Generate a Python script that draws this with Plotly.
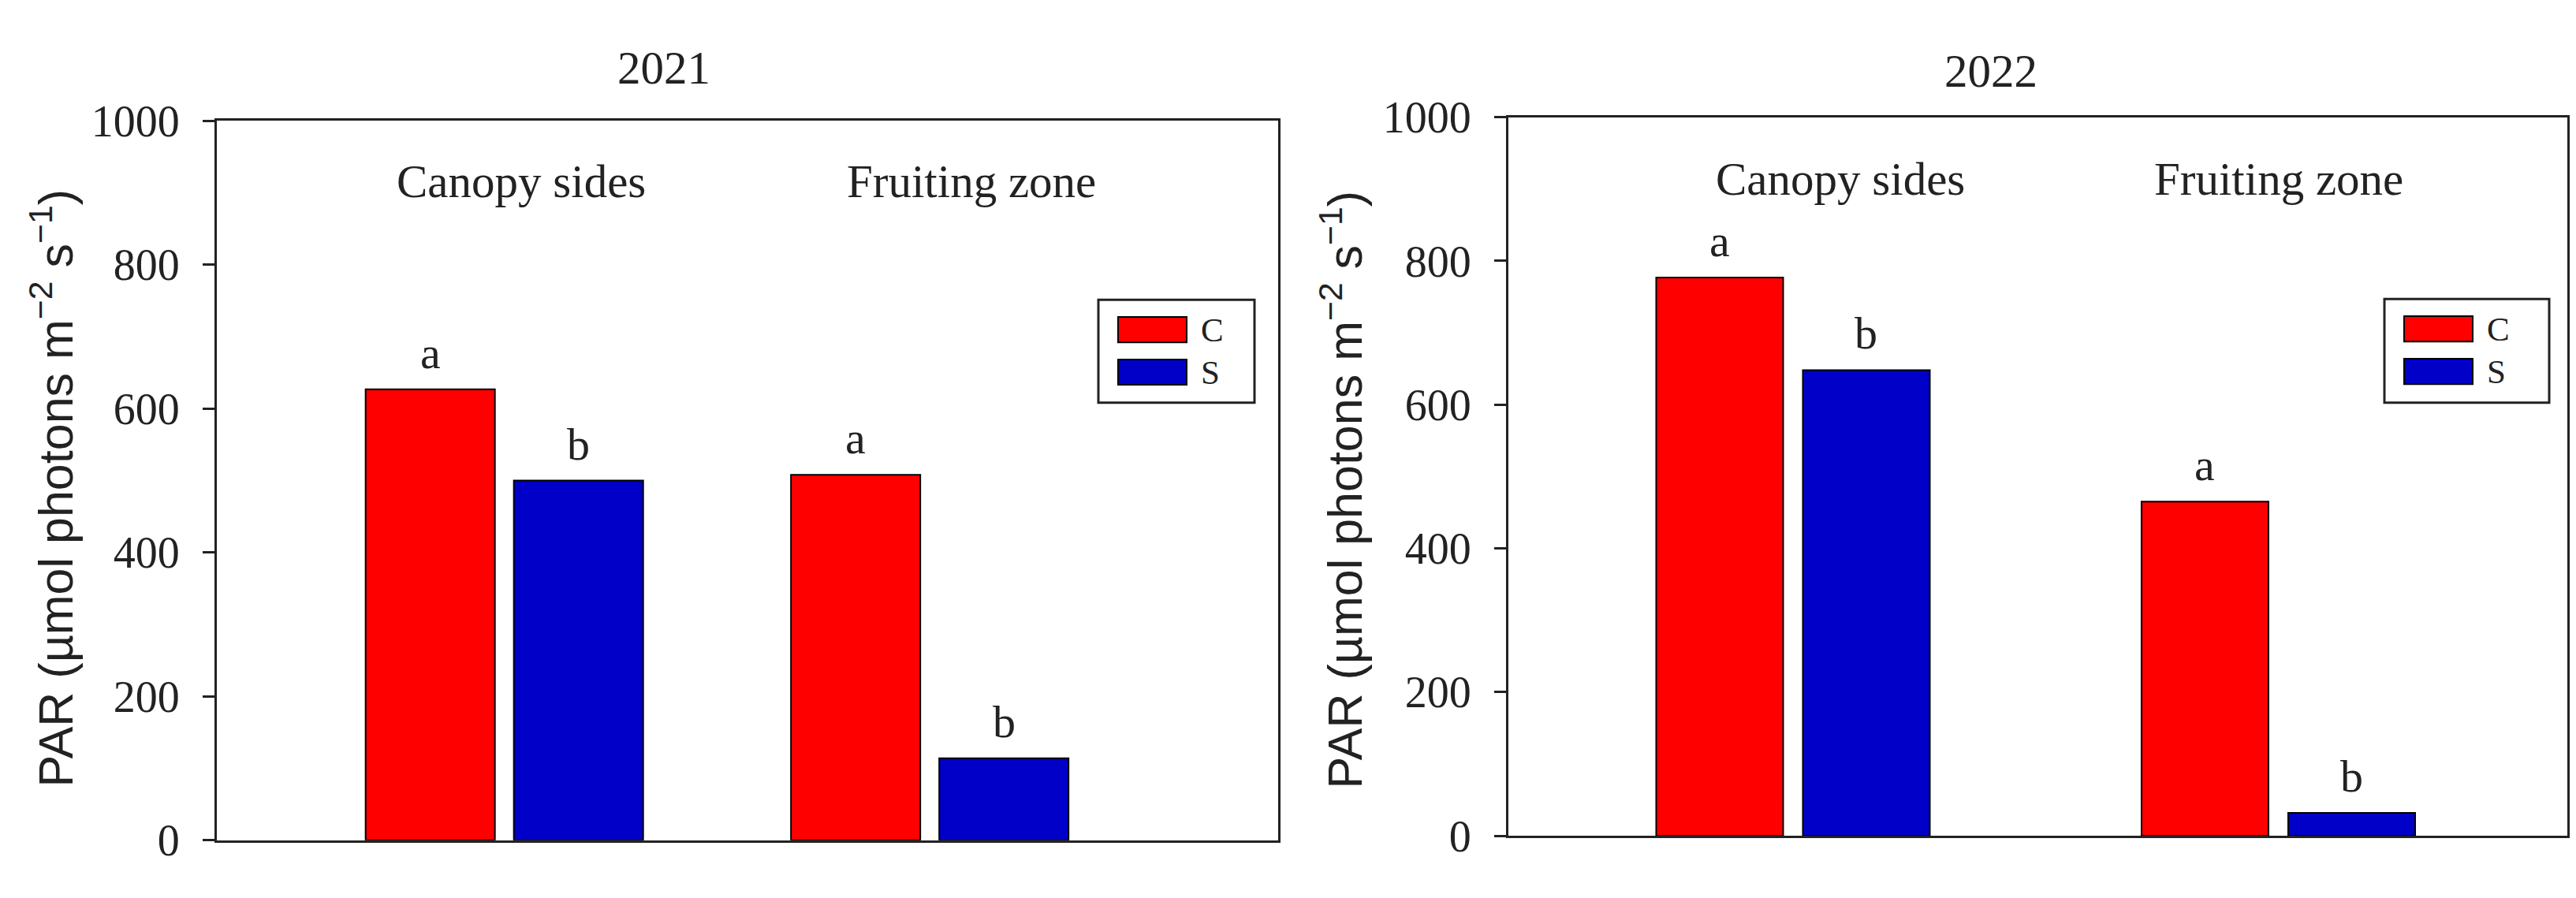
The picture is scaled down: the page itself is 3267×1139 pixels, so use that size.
import plotly.graph_objects as go

# data
categories = ["Canopy sides", "Fruiting zone"]
years = ["2021", "2022"]
c_2021 = [627, 508]
s_2021 = [500, 114]
c_2022 = [777, 465]
s_2022 = [648, 32]
letters_c = ["a", "a"]
letters_s = ["b", "b"]

W, H = 3267, 1139
RED = "#ff0000"
BLUE = "#0000c8"
LINE = "#222222"
SERIF = "Liberation Serif, Times New Roman, serif"
SANS = "Liberation Sans, Arial, sans-serif"


def px(x):
    return x / W


def py(y):
    return 1 - y / H


# per panel layout: frame (l, t, r, b) in pixels, x range, bar width, gap
panels = [
    dict(frame=(267, 122, 1613, 1087), xr=[-0.676, 1.819], w=0.304, g=0.0445,
         c=c_2021, s=s_2021, title=(834, 51), ytitle=(58, 615),
         labels=[(653, 203), (1224, 203)], legend=(1385, 362, 1583, 500)),
    dict(frame=(1905, 117, 3248, 1081), xr=[-0.5865, 1.5955], w=0.2616, g=0.0406,
         c=c_2022, s=s_2022, title=(2517, 55), ytitle=(1694, 617),
         labels=[(2326, 200), (2882, 200)], legend=(3016, 361, 3225, 500)),
]

fig = go.Figure()
annotations = []
shapes = []

for i, p in enumerate(panels):
    xa = "x" if i == 0 else "x2"
    ya = "y" if i == 0 else "y2"
    w, g = p["w"], p["g"]
    fig.add_trace(go.Bar(x=categories, y=p["c"], name="C", xaxis=xa, yaxis=ya,
                         width=w, offset=-w - g / 2, showlegend=False,
                         marker=dict(color=RED, line=dict(color="black", width=2))))
    fig.add_trace(go.Bar(x=categories, y=p["s"], name="S", xaxis=xa, yaxis=ya,
                         width=w, offset=g / 2, showlegend=False,
                         marker=dict(color=BLUE, line=dict(color="black", width=2))))

    # significance letters above bars
    for j in range(len(categories)):
        for val, lab, sign in [(p["c"][j], letters_c[j], -1), (p["s"][j], letters_s[j], 1)]:
            annotations.append(dict(x=j + sign * (w + g) / 2, y=val, xref=xa, yref=ya,
                                    text=lab, showarrow=False, yanchor="bottom",
                                    yshift=12, font=dict(family=SERIF, size=58, color=LINE)))

    # category labels inside the frame
    for lab, (lx, ly) in zip(categories, p["labels"]):
        annotations.append(dict(x=px(lx), y=py(ly), xref="paper", yref="paper", text=lab,
                                showarrow=False, xanchor="center", yanchor="middle",
                                font=dict(family=SERIF, size=59, color=LINE)))

    # panel title
    annotations.append(dict(x=px(p["title"][0]), y=py(p["title"][1]), xref="paper", yref="paper",
                            text=years[i], showarrow=False, xanchor="center", yanchor="middle",
                            font=dict(family=SERIF, size=59, color=LINE)))

    # y axis title
    annotations.append(dict(x=px(p["ytitle"][0]), y=py(p["ytitle"][1]), xref="paper", yref="paper",
                            text="PAR (µmol photons m<sup>−2</sup> s<sup>−1</sup>)", textangle=-90,
                            showarrow=False, xanchor="center", yanchor="middle",
                            font=dict(family=SANS, size=61, color=LINE)))

    # legend box
    lx0, ly0, lx1, ly1 = p["legend"]
    shapes.append(dict(type="rect", xref="paper", yref="paper", x0=px(lx0), x1=px(lx1),
                       y0=py(ly1), y1=py(ly0), line=dict(color=LINE, width=3), fillcolor="white"))
    for k, (name, col) in enumerate([("C", RED), ("S", BLUE)]):
        sy0 = ly0 + 23 + k * 57
        shapes.append(dict(type="rect", xref="paper", yref="paper", x0=px(lx0 + 25), x1=px(lx0 + 112),
                           y0=py(sy0 + 34), y1=py(sy0), line=dict(color="black", width=2),
                           fillcolor=col))
        annotations.append(dict(x=px(lx0 + 128), y=py(sy0 + 17), xref="paper", yref="paper",
                                text=name, showarrow=False, xanchor="left", yanchor="middle",
                                font=dict(family=SERIF, size=43, color=LINE)))

l0, t0, r0, b0 = panels[0]["frame"]
l1, t1, r1, b1 = panels[1]["frame"]

yax = dict(range=[0, 1000], tickvals=[0, 200, 400, 600, 800, 1000], ticks="outside",
           ticklen=15, tickwidth=3, tickcolor=LINE, showline=True, linewidth=3, linecolor=LINE,
           mirror=True, showgrid=False, zeroline=False, ticklabelstandoff=18,
           tickfont=dict(family=SERIF, size=56, color=LINE))
xax = dict(showline=True, linewidth=3, linecolor=LINE, mirror=True, showgrid=False,
           zeroline=False, showticklabels=False, ticks="")

fig.update_layout(
    width=W, height=H,
    margin=dict(l=0, r=0, t=0, b=0),
    paper_bgcolor="white", plot_bgcolor="white",
    barmode="overlay",
    showlegend=False,
    xaxis=dict(xax, domain=[px(l0), px(r0)], range=panels[0]["xr"], anchor="y"),
    yaxis=dict(yax, domain=[py(b0), py(t0)], anchor="x"),
    xaxis2=dict(xax, domain=[px(l1), px(r1)], range=panels[1]["xr"], anchor="y2"),
    yaxis2=dict(yax, domain=[py(b1), py(t1)], anchor="x2"),
    annotations=annotations,
    shapes=shapes,
)

fig.write_html("out.html")
